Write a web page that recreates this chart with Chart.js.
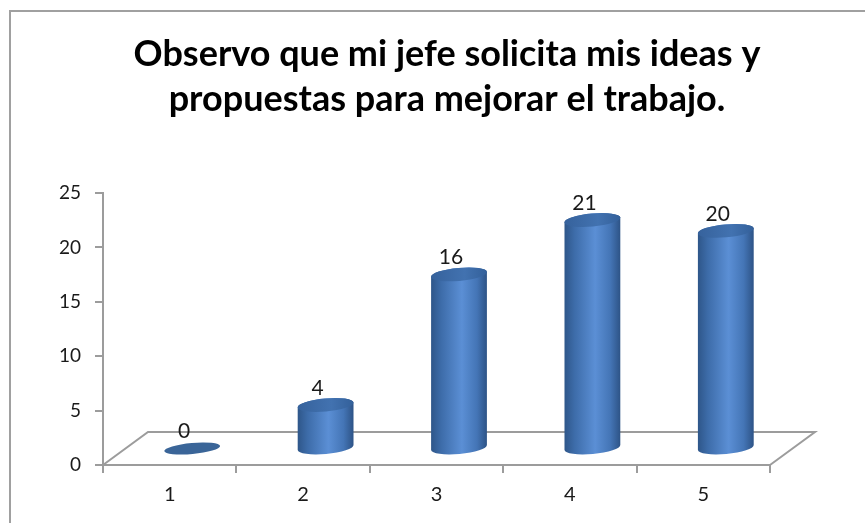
<!DOCTYPE html>
<html><head><meta charset="utf-8">
<script src="https://cdn.jsdelivr.net/npm/chart.js@4"></script>
<style>html,body{margin:0;padding:0;background:#fff;overflow:hidden}#wrap{position:relative;width:865px;height:523px}</style>
</head><body><div id="wrap"><canvas id="c" width="865" height="523"></canvas></div>
<script>
const categories = ['1', '2', '3', '4', '5'];
const values = [0, 4, 16, 21, 20];
const yTicks = [0, 5, 10, 15, 20, 25];
const titleLines = ['Observo que mi jefe solicita mis ideas y', 'propuestas para mejorar el trabajo.'];

const FONT = "Lato, 'Open Sans', 'DejaVu Sans', sans-serif";
// fit the title font so the first line spans about 627px
const mctx = document.createElement('canvas').getContext('2d');
mctx.font = "bold 100px " + FONT;
const titleSize = Math.round(100 * 627 / mctx.measureText(titleLines[0]).width * 10) / 10;

const DEPTH = { dx: 45, dy: -33 };

const cyl3d = {
  id: 'cyl3d',
  afterLayout(chart) {
    const t = chart.titleBlock;
    if (t) {
      const shift = (chart.width / 2 + 14.5) - (t.left + t.right) / 2;
      t.left += shift; t.right += shift;
    }
  },
  beforeDraw(chart) {
    const ctx = chart.ctx;
    ctx.save();
    ctx.fillStyle = '#fff';
    ctx.fillRect(0, 0, chart.width, chart.height);
    ctx.strokeStyle = '#a0a0a0';
    ctx.lineWidth = 2;
    ctx.beginPath();
    ctx.moveTo(10, chart.height + 5);
    ctx.lineTo(10, 11);
    ctx.lineTo(chart.width + 5, 11);
    ctx.stroke();
    ctx.restore();
  },
  beforeDatasetsDraw(chart) {
    const ctx = chart.ctx, xs = chart.scales.x, ys = chart.scales.y;
    const L = xs.left, R = xs.right, B = ys.getPixelForValue(0);
    ctx.save();
    ctx.strokeStyle = '#9c9c9c';
    ctx.lineWidth = 2;
    ctx.beginPath();
    ctx.moveTo(L, B);
    ctx.lineTo(L + DEPTH.dx, B + DEPTH.dy);
    ctx.lineTo(R + DEPTH.dx, B + DEPTH.dy);
    ctx.lineTo(R, B);
    ctx.stroke();
    ctx.restore();
  },
  afterDatasetsDraw(chart) {
    const ctx = chart.ctx;
    const meta = chart.getDatasetMeta(0);
    const ds = chart.data.datasets[0];
    meta.data.forEach((bar, i) => {
      const p = bar.getProps(['x', 'y', 'base', 'width'], true);
      const cx = p.x + DEPTH.dx / 2;
      const top = p.y + DEPTH.dy / 2;
      const bot = p.base + DEPTH.dy / 2;
      const rx = p.width / 2, ry = 6.5, tilt = -0.09;
      ctx.save();
      if (bot - top > 0.5) {
        const g = ctx.createLinearGradient(cx - rx, 0, cx + rx, 0);
        g.addColorStop(0, '#2e5689');
        g.addColorStop(0.18, '#3d6ca9');
        g.addColorStop(0.55, '#5b8fd5');
        g.addColorStop(0.82, '#4475b6');
        g.addColorStop(1, '#2d5386');
        ctx.fillStyle = g;
        ctx.beginPath();
        ctx.ellipse(cx, top, rx, ry, tilt, Math.PI, 0, false);
        ctx.ellipse(cx, bot, rx, ry, tilt, 0, Math.PI, false);
        ctx.closePath();
        ctx.fill();
        const tg = ctx.createLinearGradient(cx - rx, top, cx + rx, top);
        tg.addColorStop(0, '#36629c');
        tg.addColorStop(0.6, '#4272b0');
        tg.addColorStop(1, '#33609a');
        ctx.fillStyle = tg;
        ctx.beginPath();
        ctx.ellipse(cx, top, rx, ry, tilt, 0, Math.PI * 2);
        ctx.fill();
      } else {
        ctx.fillStyle = '#3a6598';
        ctx.beginPath();
        ctx.ellipse(cx, top, rx, ry - 1, tilt, 0, Math.PI * 2);
        ctx.fill();
      }
      ctx.fillStyle = '#1a1a1a';
      ctx.font = "21px " + FONT;
      ctx.textAlign = 'center';
      ctx.textBaseline = 'middle';
      ctx.fillText(String(ds.data[i]), cx - 8, top - 17);
      ctx.restore();
    });
  }
};

new Chart(document.getElementById('c'), {
  type: 'bar',
  data: {
    labels: categories,
    datasets: [{
      data: values,
      backgroundColor: 'rgba(0,0,0,0)',
      borderWidth: 0,
      categoryPercentage: 1,
      barPercentage: 0.42
    }]
  },
  options: {
    responsive: false,
    animation: false,
    devicePixelRatio: 1,
    layout: { padding: { left: 10, right: 95, top: 0, bottom: 13 } },
    plugins: {
      legend: { display: false },
      tooltip: { enabled: false },
      title: {
        display: true,
        text: titleLines,
        color: '#000',
        font: { family: FONT, size: titleSize, weight: 'bold', lineHeight: 45 / titleSize },
        padding: { top: 32, bottom: 71 }
      }
    },
    scales: {
      x: {
        grid: { display: true, drawOnChartArea: false, tickLength: 8, color: '#9c9c9c', lineWidth: 2 },
        border: { color: '#9c9c9c', width: 2 },
        ticks: { color: '#1a1a1a', font: { family: FONT, size: 20 }, padding: 10 },
        afterFit(s) { s.height = 45; }
      },
      y: {
        min: 0, max: 25,
        afterBuildTicks(s) { s.ticks = yTicks.map(v => ({ value: v })); },
        grid: { display: true, drawOnChartArea: false, tickLength: 8, color: '#9c9c9c', lineWidth: 2 },
        border: { color: '#9c9c9c', width: 2 },
        ticks: { color: '#1a1a1a', font: { family: FONT, size: 19 }, padding: 14 },
        afterFit(s) { s.width = 93; }
      }
    }
  },
  plugins: [cyl3d]
});
</script>
</body></html>
